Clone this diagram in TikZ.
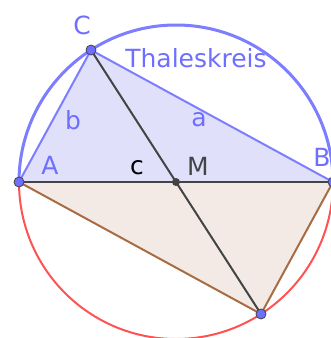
\documentclass[tikz,border=0pt]{standalone}
\usepackage{fontspec}
\setmainfont{DejaVu Sans}
\usetikzlibrary{calc}

\definecolor{thalesblue}{RGB}{110,110,255}
\definecolor{circleblue}{RGB}{125,125,255}
\definecolor{bluefill}{RGB}{224,224,251}
\definecolor{brownline}{RGB}{168,108,66}
\definecolor{brownfill}{RGB}{243,234,229}
\definecolor{circlered}{RGB}{255,82,82}
\definecolor{darkline}{RGB}{68,68,68}

\tikzset{
  lbl/.style={inner sep=0pt, text=thalesblue},
  pt/.style={fill=thalesblue, draw=darkline, line width=0.8pt},
}

\begin{document}
\begin{tikzpicture}[x=1pt,y=-1pt,font=\fontsize{25}{30}\selectfont]
      \useasboundingbox (0,0) rectangle (331,338);
      \clip (0,0) rectangle (331,338);

      \coordinate (M) at (176,182);
      \coordinate (A) at (19,182);
      \coordinate (B) at (333,182);
      \coordinate (C) at (91,50);
      \coordinate (D) at ($(M)!-1!(C)$);

      % triangles
      \fill[bluefill] (A) -- (B) -- (C) -- cycle;
      \fill[brownfill] (A) -- (B) -- (D) -- cycle;
      \draw[circleblue, line width=2pt] (A) -- (C) -- (B);
      \draw[brownline, line width=2pt] (A) -- (D) -- (B);

      % diameters
      \draw[darkline, line width=2pt] (A) -- (B);
      \draw[darkline, line width=2pt] (C) -- (D);

      % Thales circle
      \draw[circleblue, line width=3pt] (A) arc[start angle=180, end angle=0, radius=157pt];
      \draw[circlered, line width=2pt] (A) arc[start angle=180, end angle=360, radius=157pt];

      % points
      \fill[darkline] (M) circle (4pt);
      \foreach \p in {A,B,C,D}
        \filldraw[pt] (\p) circle (5pt);

      % labels
      \node[lbl] (labC) at (82,25) {C};
      \node[lbl] (labT) at (196,58) {Thaleskreis};
      \node[lbl] (labb) at (73,120) {b};
      \node[lbl] (laba) at (199,120) {a};
      \node[lbl] (labA) at (50,165) {A};
      \node[lbl, text=black] (labc) at (137,168) {c};
      \node[lbl, text=darkline] (labM) at (198,166) {M};
      \node[lbl] (labB) at (322,157) {B};
\end{tikzpicture}
\end{document}
